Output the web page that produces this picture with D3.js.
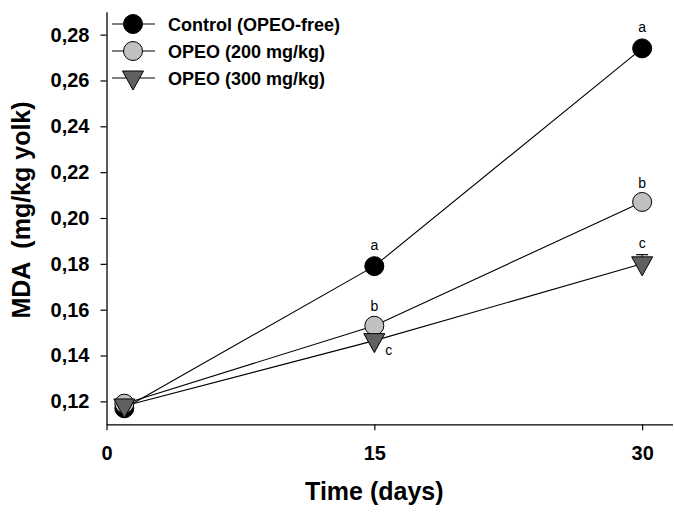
<!DOCTYPE html>
<html>
<head>
<meta charset="utf-8">
<script src="https://cdn.jsdelivr.net/npm/d3@7"></script>
<style>
  body { margin: 0; background: #fff; }
  text { font-family: "Liberation Sans", Arial, sans-serif; }
</style>
</head>
<body>
<svg id="chart" width="674" height="512"></svg>
<script>
// data
var days = [1, 15, 30];
var seriesNames = ["Control (OPEO-free)", "OPEO (200 mg/kg)", "OPEO (300 mg/kg)"];
var control = [0.117, 0.179, 0.274];
var opeo200 = [0.119, 0.153, 0.207];
var opeo300 = [0.118, 0.1465, 0.180];
var err300 = [0, 0, 0.004];
var letters15 = ["a", "b", "c"];
var letters30 = ["a", "b", "c"];
var xTicks = [0, 15, 30];
var yTicks = [0.12, 0.14, 0.16, 0.18, 0.20, 0.22, 0.24, 0.26, 0.28];

var svg = d3.select("#chart");

var x = d3.scaleLinear().domain([0, 31.7]).range([106.5, 672.5]),
    y = d3.scaleLinear().domain([0.11, 0.29]).range([424.3, 11.7]);

var comma = d3.formatLocale({ decimal: ",", thousands: ".", grouping: [3], currency: ["", ""] });
var fmt = comma.format(".2f");

// axes
var xAxis = d3.axisBottom(x).tickValues(xTicks).tickSize(6).tickPadding(16).tickSizeOuter(0);
var yAxis = d3.axisLeft(y).tickValues(yTicks).tickSize(6).tickPadding(11).tickSizeOuter(0).tickFormat(fmt);

var gx = svg.append("g")
    .attr("transform", "translate(0," + y.range()[0] + ")")
    .call(xAxis);
var gy = svg.append("g")
    .attr("transform", "translate(" + x.range()[0] + ",0)")
    .call(yAxis);

[gx, gy].forEach(g => {
    g.select(".domain").attr("stroke", "#000").attr("stroke-width", 1.3);
    g.selectAll(".tick line").attr("stroke", "#000").attr("stroke-width", 1.2);
    g.selectAll(".tick text")
        .attr("fill", "#000")
        .style("font-size", "20px")
        .style("font-weight", "bold");
});

// axis titles
svg.append("text")
    .attr("x", x(15))
    .attr("y", 500)
    .attr("text-anchor", "middle")
    .style("font-size", "25px")
    .style("font-weight", "bold")
    .text("Time (days)");

svg.append("text")
    .attr("transform", "translate(30,210) rotate(-90)")
    .attr("text-anchor", "middle")
    .style("font-size", "25px")
    .style("font-weight", "bold")
    .style("white-space", "pre")
    .text("MDA  (mg/kg yolk)");

var series = [
    { name: seriesNames[0], values: control, shape: "circle", fill: "#000000" },
    { name: seriesNames[1], values: opeo200, shape: "circle", fill: "#c0c0c0" },
    { name: seriesNames[2], values: opeo300, shape: "triangle", fill: "#606060" }
];

var line = d3.line()
    .x((d, i) => x(days[i]))
    .y(d => y(d));

// lines
series.forEach(s => {
    svg.append("path")
        .datum(s.values)
        .attr("fill", "none")
        .attr("stroke", "#000")
        .attr("stroke-width", 1.1)
        .attr("d", line);
});

// error bar (only visible one)
opeo300.forEach((v, i) => {
    if (!err300[i]) return;
    var cx = x(days[i]);
    svg.append("line")
        .attr("x1", cx).attr("x2", cx)
        .attr("y1", y(v)).attr("y2", y(v + err300[i]))
        .attr("stroke", "#000");
    svg.append("line")
        .attr("x1", cx - 6).attr("x2", cx + 6)
        .attr("y1", y(v + err300[i])).attr("y2", y(v + err300[i]))
        .attr("stroke", "#000").attr("stroke-width", 1.2);
});

function drawSymbol(g, s, cx, cy) {
    if (s.shape === "circle") {
        g.append("circle")
            .attr("cx", cx).attr("cy", cy).attr("r", 9.5)
            .attr("fill", s.fill)
            .attr("stroke", "#000").attr("stroke-width", 1);
    } else {
        g.append("path")
            .attr("d", "M" + (cx - 10.5) + "," + (cy - 7) + "L" + (cx + 10.5) + "," + (cy - 7) +
                "L" + cx + "," + (cy + 12) + "Z")
            .attr("fill", s.fill)
            .attr("stroke", "#000").attr("stroke-width", 1);
    }
}

// symbols
series.forEach(s => {
    s.values.forEach((v, i) => drawSymbol(svg, s, x(days[i]), y(v)));
});

// significance letters
var labelStyle = g => g.style("font-size", "14px").attr("fill", "#000");
var off30 = [-16, -14, -16];
series.forEach((s, k) => {
    svg.append("text")
        .attr("x", x(days[2]))
        .attr("y", y(s.values[2]) + off30[k])
        .attr("text-anchor", "middle")
        .call(labelStyle)
        .text(letters30[k]);
});
// day 15: a and b above, c to the lower right
svg.append("text").attr("x", x(days[1])).attr("y", y(control[1]) - 16)
    .attr("text-anchor", "middle").call(labelStyle).text(letters15[0]);
svg.append("text").attr("x", x(days[1])).attr("y", y(opeo200[1]) - 15)
    .attr("text-anchor", "middle").call(labelStyle).text(letters15[1]);
svg.append("text").attr("x", x(days[1]) + 14.5).attr("y", y(opeo300[1]) + 14)
    .attr("text-anchor", "middle").call(labelStyle).text(letters15[2]);

// legend
var legend = svg.append("g");
series.forEach((s, k) => {
    var ly = 24 + k * 27;
    legend.append("line")
        .attr("x1", 112).attr("x2", 155)
        .attr("y1", ly).attr("y2", ly)
        .attr("stroke", "#000").attr("stroke-width", 1.1);
    drawSymbol(legend, s, 133, ly);
    legend.append("text")
        .attr("x", 168).attr("y", ly + 6.5)
        .style("font-size", "18px")
        .style("font-weight", "bold")
        .text(s.name);
});
</script>
</body>
</html>
